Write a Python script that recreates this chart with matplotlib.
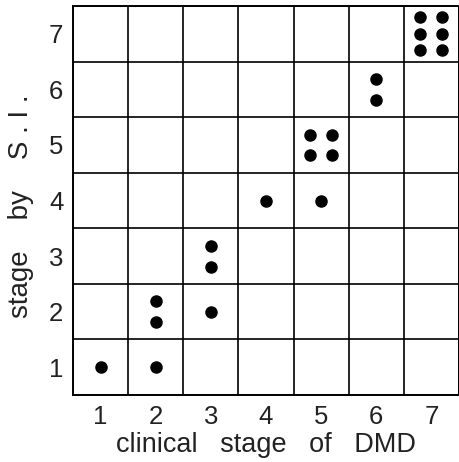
import numpy as np
import matplotlib
matplotlib.use("Agg")
import matplotlib.pyplot as plt

# clinical stage, stage by S.I., number of patients
clinical = [1, 2, 2, 3, 3, 4, 5, 5, 6, 7]
si_stage = [1, 1, 2, 2, 3, 4, 4, 5, 6, 7]
counts = [1, 1, 2, 1, 2, 1, 1, 4, 2, 6]
stages = [1, 2, 3, 4, 5, 6, 7]

# how dots sit inside one cell for a given count
layout = {
    1: [(0, 0)],
    2: [(0, 0.19), (0, -0.19)],
    4: [(-0.2, 0.18), (0.2, 0.18), (-0.2, -0.18), (0.2, -0.18)],
    6: [(-0.2, 0.3), (0.2, 0.3), (-0.2, 0), (0.2, 0), (-0.2, -0.3), (0.2, -0.3)],
}

xs = []
ys = []
for cx, cy, n in zip(clinical, si_stage, counts):
    for dx, dy in layout[n]:
        xs.append(cx + dx)
        ys.append(cy + dy)

plt.rcParams['font.family'] = ['Liberation Sans', 'DejaVu Sans']

fig = plt.figure(figsize=(4.6, 4.62), dpi=100)
ax = fig.add_axes([0.1587, 0.145, 0.839, 0.842])
ax.scatter(xs, ys, s=64, color='black', zorder=3)

ax.set_xlim(0.5, 7.5)
ax.set_ylim(0.5, 7.5)
ax.set_xticks(stages)
ax.set_yticks(stages)
ax.set_xticks(np.arange(0.5, 8, 1), minor=True)
ax.set_yticks(np.arange(0.5, 8, 1), minor=True)
ax.grid(which='minor', color='black', linewidth=1.2)
ax.tick_params(which='both', length=0, labelsize=18.5, pad=7, colors='#222222')
for sp in ax.spines.values():
    sp.set_linewidth(1.4)

ax.set_xlabel('clinical   stage   of   DMD', fontsize=19.5, labelpad=2, color='#222222')
ax.set_ylabel('stage    by    S . I .', fontsize=20, color='#222222')
ax.yaxis.set_label_coords(-0.10, 0.485)

fig.savefig('out.png', dpi=100)
